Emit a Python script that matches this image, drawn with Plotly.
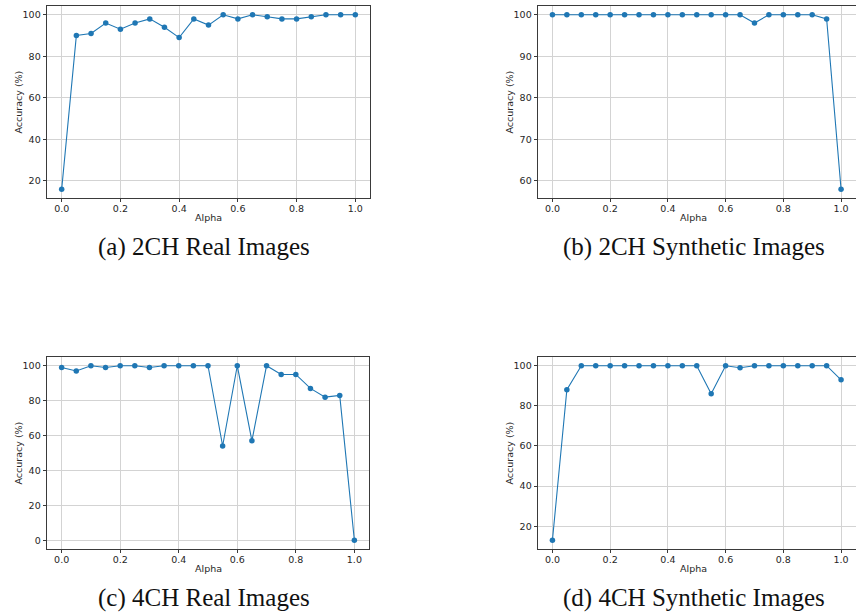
import plotly.graph_objects as go

W, H = 856, 616

alpha = [0.0, 0.05, 0.1, 0.15, 0.2, 0.25, 0.3, 0.35, 0.4, 0.45, 0.5,
         0.55, 0.6, 0.65, 0.7, 0.75, 0.8, 0.85, 0.9, 0.95, 1.0]

acc_2ch_real = [16, 90, 91, 96, 93, 96, 98, 94, 89, 98, 95,
                100, 98, 100, 99, 98, 98, 99, 100, 100, 100]
acc_2ch_syn = [100, 100, 100, 100, 100, 100, 100, 100, 100, 100, 100,
               100, 100, 100, 98, 100, 100, 100, 100, 99, 58]
acc_4ch_real = [99, 97, 100, 99, 100, 100, 99, 100, 100, 100, 100,
                54, 100, 57, 100, 95, 95, 87, 82, 83, 0]
acc_4ch_syn = [13, 88, 100, 100, 100, 100, 100, 100, 100, 100, 100,
               86, 100, 99, 100, 100, 100, 100, 100, 100, 93]

x_ticks = [0.0, 0.2, 0.4, 0.6, 0.8, 1.0]
y_ticks_a = [20, 40, 60, 80, 100]
y_ticks_b = [60, 70, 80, 90, 100]
y_ticks_c = [0, 20, 40, 60, 80, 100]
y_ticks_d = [20, 40, 60, 80, 100]

captions = ["(a) 2CH Real Images", "(b) 2CH Synthetic Images",
            "(c) 4CH Real Images", "(d) 4CH Synthetic Images"]

# panel frames in pixels: (left, right, top, bottom)
frames = [(47, 370, 6, 198), (538, 855.5, 6, 198),
          (47, 369, 357, 549), (538, 855.5, 357, 549)]
series = [acc_2ch_real, acc_2ch_syn, acc_4ch_real, acc_4ch_syn]
yticks = [y_ticks_a, y_ticks_b, y_ticks_c, y_ticks_d]

BLUE = "#1f77b4"
TICKFONT = dict(family="DejaVu Sans", size=9.5, color="#262626")

fig = go.Figure()
layout = dict(width=W, height=H, autosize=False,
              margin=dict(l=0, r=0, t=0, b=0),
              paper_bgcolor="white", plot_bgcolor="white",
              showlegend=False)
annotations = []


def pad(vals):
    lo, hi = min(vals), max(vals)
    m = (hi - lo) * 0.05
    return [lo - m, hi + m]


for i, (ys, fr, yt, cap) in enumerate(zip(series, frames, yticks, captions)):
    n = "" if i == 0 else str(i + 1)
    xa, ya = "x" + n, "y" + n
    fig.add_trace(go.Scatter(x=alpha, y=ys, xaxis=xa, yaxis=ya,
                             mode="lines+markers",
                             line=dict(color=BLUE, width=1.1),
                             marker=dict(color=BLUE, size=5.5),
                             cliponaxis=False))
    l, r, t, b = fr
    axis_common = dict(showline=True, mirror=True, linecolor="#3a3a3a",
                       linewidth=0.8, showgrid=True, gridcolor="#d3d3d3",
                       gridwidth=0.8, ticks="outside", ticklen=3.5,
                       tickwidth=0.8, tickcolor="#3a3a3a", tickfont=TICKFONT,
                       zeroline=False)
    layout["xaxis" + n] = dict(domain=[l / W, r / W],
                               anchor=ya, range=[-0.05, 1.05],
                               tickvals=x_ticks, tickformat=".1f",
                               ticklabelstandoff=-2,
                               **axis_common)
    layout["yaxis" + n] = dict(domain=[1 - b / H, 1 - t / H],
                               anchor=xa, range=pad(ys),
                               tickvals=yt, **axis_common)
    # axis titles
    annotations.append(dict(text="Alpha", xref="paper", yref="paper",
                            x=((l + r) / 2 + (0 if i % 2 == 0 else -3)) / W,
                            y=1 - (b + 19) / H, showarrow=False,
                            font=TICKFONT, xanchor="center", yanchor="middle"))
    annotations.append(dict(text="Accuracy (%)", xref="paper", yref="paper",
                            x=(l - 29.5) / W, y=1 - ((t + b) / 2) / H,
                            textangle=-90, showarrow=False, font=TICKFONT,
                            xanchor="center", yanchor="middle"))
    cx = 204 if i % 2 == 0 else 694
    cy = 247 if i < 2 else 598
    annotations.append(dict(text=cap, xref="paper", yref="paper",
                            x=cx / W, y=1 - cy / H, showarrow=False,
                            font=dict(family="Liberation Serif", size=25,
                                      color="#111111"),
                            xanchor="center", yanchor="middle"))

layout["annotations"] = annotations
fig.update_layout(**layout)
fig.write_html("out.html",
               config={"displayModeBar": False},
               post_script="document.body.style.margin='0';"
                           "document.body.style.overflow='hidden';")
